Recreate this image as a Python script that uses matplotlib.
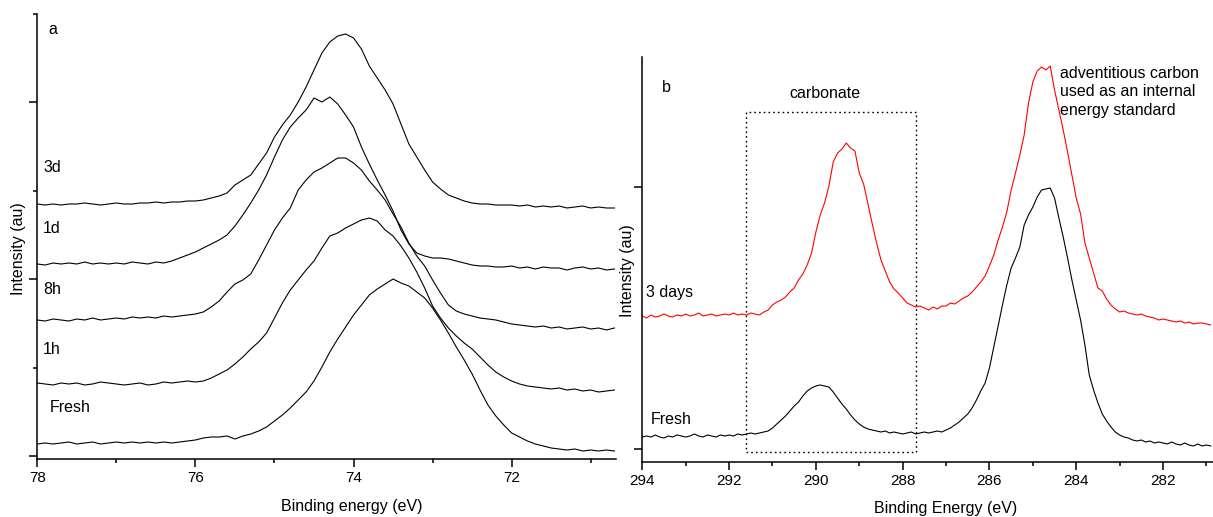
import numpy as np
import matplotlib
matplotlib.use("Agg")
import matplotlib.pyplot as plt
from matplotlib.ticker import MultipleLocator, FixedLocator, NullFormatter
from matplotlib.patches import Rectangle

plt.rcParams['font.family'] = ['Liberation Sans', 'DejaVu Sans']

# ---------------- Panel a data (binding energy grid, 0.1 eV step) ----------------
be_a = np.round(np.arange(780, 706, -1) / 10.0, 1)   # 78.0 ... 70.7

int_3d = [252, 251, 252, 251, 252, 252, 253, 252, 251, 252,
          253, 252, 252, 253, 253, 254, 253, 254, 254, 255,
          255, 256, 258, 260, 263, 271, 276, 281, 292, 303,
          319, 331, 341, 354, 369, 386, 403, 414, 420, 422,
          418, 407, 390, 378, 366, 352, 332, 312, 299, 286,
          274, 267, 261, 258, 255, 253, 252, 252, 251, 251,
          251, 250, 251, 249, 250, 249, 250, 248, 249, 250,
          248, 249, 248, 248]
int_1d = [192, 191, 193, 192, 193, 192, 194, 192, 193, 192,
          193, 192, 194, 193, 192, 194, 193, 195, 198, 201,
          204, 208, 212, 216, 221, 230, 241, 253, 266, 281,
          299, 316, 329, 338, 346, 358, 354, 359, 352, 341,
          329, 309, 292, 276, 261, 245, 226, 212, 203, 200,
          198, 198, 197, 195, 193, 191, 190, 190, 189, 189,
          190, 188, 189, 187, 189, 188, 188, 186, 188, 189,
          187, 188, 186, 187]
int_8h = [136, 135, 137, 136, 135, 137, 136, 138, 136, 137,
          138, 137, 139, 138, 139, 138, 140, 139, 140, 141,
          142, 144, 149, 155, 164, 172, 176, 182, 196, 211,
          226, 238, 248, 266, 276, 284, 288, 293, 298, 298,
          293, 286, 275, 266, 256, 242, 229, 213, 200, 190,
          176, 163, 151, 145, 142, 140, 138, 137, 136, 134,
          132, 131, 130, 129, 130, 128, 129, 127, 128, 129,
          127, 128, 126, 128]
int_1h = [73, 72, 71, 73, 72, 73, 71, 72, 74, 73,
          72, 71, 72, 73, 71, 72, 74, 73, 74, 75,
          74, 75, 78, 82, 86, 92, 99, 107, 114, 123,
          138, 153, 166, 176, 186, 195, 208, 220, 223, 228,
          232, 236, 238, 235, 226, 220, 210, 198, 184, 168,
          150, 138, 128, 120, 113, 107, 99, 91, 84, 79,
          75, 72, 70, 69, 68, 67, 68, 66, 67, 65,
          66, 64, 65, 66]
int_fresh_a = [12, 13, 12, 13, 14, 12, 13, 14, 12, 13,
               14, 13, 14, 13, 14, 13, 14, 13, 14, 15,
               16, 18, 19, 19, 20, 17, 20, 22, 25, 29,
               35, 41, 48, 56, 64, 75, 89, 104, 117, 129,
               141, 151, 161, 167, 172, 177, 173, 170, 164, 158,
               148, 136, 123, 109, 96, 82, 66, 51, 40, 31,
               23, 19, 15, 12, 10, 8, 7, 6, 7, 5,
               6, 5, 6, 5]
labels_a = ["3d", "1d", "8h", "1h", "Fresh"]

# ---------------- Panel b data (binding energy grid, 0.1 eV step) ----------------
be_b = np.round(np.arange(2940, 2808, -1) / 10.0, 1)  # 294.0 ... 280.9

int_3days = [133, 131, 134, 132, 133, 135, 133, 132, 134, 133,
             135, 133, 134, 136, 133, 134, 135, 133, 134, 135,
             134, 136, 134, 135, 134, 136, 135, 134, 137, 139,
             144, 147, 149, 152, 157, 161, 169, 175, 184, 196,
             217, 234, 246, 263, 287, 296, 300, 306, 301, 298,
             276, 265, 245, 225, 206, 189, 178, 167, 160, 156,
             151, 146, 144, 142, 143, 141, 139, 142, 140, 143,
             143, 146, 145, 148, 151, 153, 157, 162, 167, 173,
             183, 194, 209, 222, 237, 259, 276, 294, 314, 346,
             367, 378, 382, 379, 383, 359, 339, 319, 297, 274,
             251, 235, 206, 191, 176, 161, 158, 150, 144, 140,
             137, 138, 136, 135, 134, 135, 133, 132, 131, 129,
             130, 129, 128, 127, 128, 126, 127, 125, 126, 126,
             125, 124]
int_fresh_b = [12, 13, 12, 14, 12, 11, 13, 12, 14, 13,
               12, 13, 15, 13, 12, 14, 13, 12, 14, 13,
               14, 13, 15, 14, 15, 16, 15, 16, 17, 18,
               21, 25, 29, 33, 38, 43, 47, 53, 58, 61,
               63, 64, 63, 62, 57, 51, 45, 40, 34, 29,
               25, 22, 20, 19, 18, 17, 18, 16, 17, 16,
               15, 16, 17, 15, 16, 17, 16, 17, 18, 17,
               19, 21, 24, 27, 31, 35, 41, 49, 58, 66,
               81, 102, 123, 144, 164, 181, 191, 202, 224, 234,
               242, 252, 259, 260, 261, 251, 231, 212, 191, 169,
               149, 129, 104, 74, 59, 46, 35, 28, 22, 17,
               14, 12, 11, 9, 8, 9, 7, 8, 6, 7,
               6, 5, 7, 5, 4, 6, 4, 3, 5, 3,
               4, 3]
carbonate_window = (291.6, 287.69)

# ---------------- Figure ----------------
W, H = 1213, 517
fig = plt.figure(figsize=(W / 100, H / 100), dpi=100)


def fx(px):
    return px / W


def fy(py):
    return 1 - py / H


axa = fig.add_axes([fx(37.3), fy(459.3), fx(616 - 37.3), (459.3 - 14) / H])
axb = fig.add_axes([fx(642.3), fy(462), fx(1212.5 - 642.3), (462 - 57.3) / H])

lw = 0.8
for series in [int_3d, int_1d, int_8h, int_1h, int_fresh_a]:
    axa.plot(be_a, series, color='black', lw=lw)

axb.plot(be_b, int_3days, color='#ff0000', lw=lw)
axb.plot(be_b, int_fresh_b, color='black', lw=lw)
rect = Rectangle((carbonate_window[0], -2.7), carbonate_window[1] - carbonate_window[0], 340,
                 fill=False, ls=(0, (1.2, 2.2)), lw=1.0, ec='black')
axb.add_patch(rect)

axa.set_xlim(78, 70.68)
axa.set_ylim(-3.3, 442)
axb.set_xlim(294, 280.86)
axb.set_ylim(-13, 391.7)

for ax in (axa, axb):
    ax.spines['top'].set_visible(False)
    ax.spines['right'].set_visible(False)
    ax.spines['left'].set_linewidth(1.1)
    ax.spines['bottom'].set_linewidth(1.1)
    ax.xaxis.set_major_locator(MultipleLocator(2))
    ax.xaxis.set_minor_locator(MultipleLocator(1))
    ax.tick_params(axis='both', which='major', direction='out', length=5.5, width=1.1,
                   labelsize=11, pad=3)
    ax.tick_params(axis='both', which='minor', direction='out', length=3, width=1.1)
    ax.yaxis.set_major_formatter(NullFormatter())
    ax.set_facecolor('none')

axa.yaxis.set_major_locator(FixedLocator([0, 177, 354]))
axa.yaxis.set_minor_locator(FixedLocator([88.5, 265.5, 442]))
axb.yaxis.set_major_locator(FixedLocator([0, 262]))
axb.yaxis.set_minor_locator(FixedLocator([]))

fs = 11.5
axa.set_xlabel("Binding energy (eV)", fontsize=fs)
axa.xaxis.set_label_coords((352 - 37.3) / (616 - 37.3), (459.3 - 507) / 445.3)
axa.xaxis.label.set_va('center')
axb.set_xlabel("Binding Energy (eV)", fontsize=fs)
axb.xaxis.set_label_coords((946 - 642.3) / 570.2, (462 - 508) / 404.7)
axb.xaxis.label.set_va('center')

axa.set_ylabel("Intensity (au)", fontsize=fs)
axa.yaxis.set_label_coords((19 - 37.3) / 578.7, (459.3 - 249) / 445.3)
axa.yaxis.label.set_va('center')
axb.set_ylabel("Intensity (au)", fontsize=fs)
axb.yaxis.set_label_coords((627.5 - 642.3) / 570.2, (462 - 271) / 404.7)
axb.yaxis.label.set_va('center')

# panel a annotations
fig.text(fx(48), fy(29), "a", fontsize=fs, ha='left', va='center')
label_pos_a = [(43, 167.7), (43, 228), (43, 289), (43, 350), (50, 407)]
for lab, (px, py) in zip(labels_a, label_pos_a):
    fig.text(fx(px), fy(py), lab, fontsize=fs, ha='left', va='center')

# panel b annotations
fig.text(fx(662), fy(88), "b", fontsize=fs, ha='left', va='center')
fig.text(fx(825), fy(93), "carbonate", fontsize=fs, ha='center', va='center')
fig.text(fx(1060), fy(91.7), "adventitious carbon\nused as an internal\nenergy standard",
         fontsize=fs, ha='left', va='center', linespacing=1.28)
fig.text(fx(646), fy(292.7), "3 days", fontsize=fs, ha='left', va='center')
fig.text(fx(651), fy(420), "Fresh", fontsize=fs, ha='left', va='center')

fig.savefig("out.png", dpi=100)
